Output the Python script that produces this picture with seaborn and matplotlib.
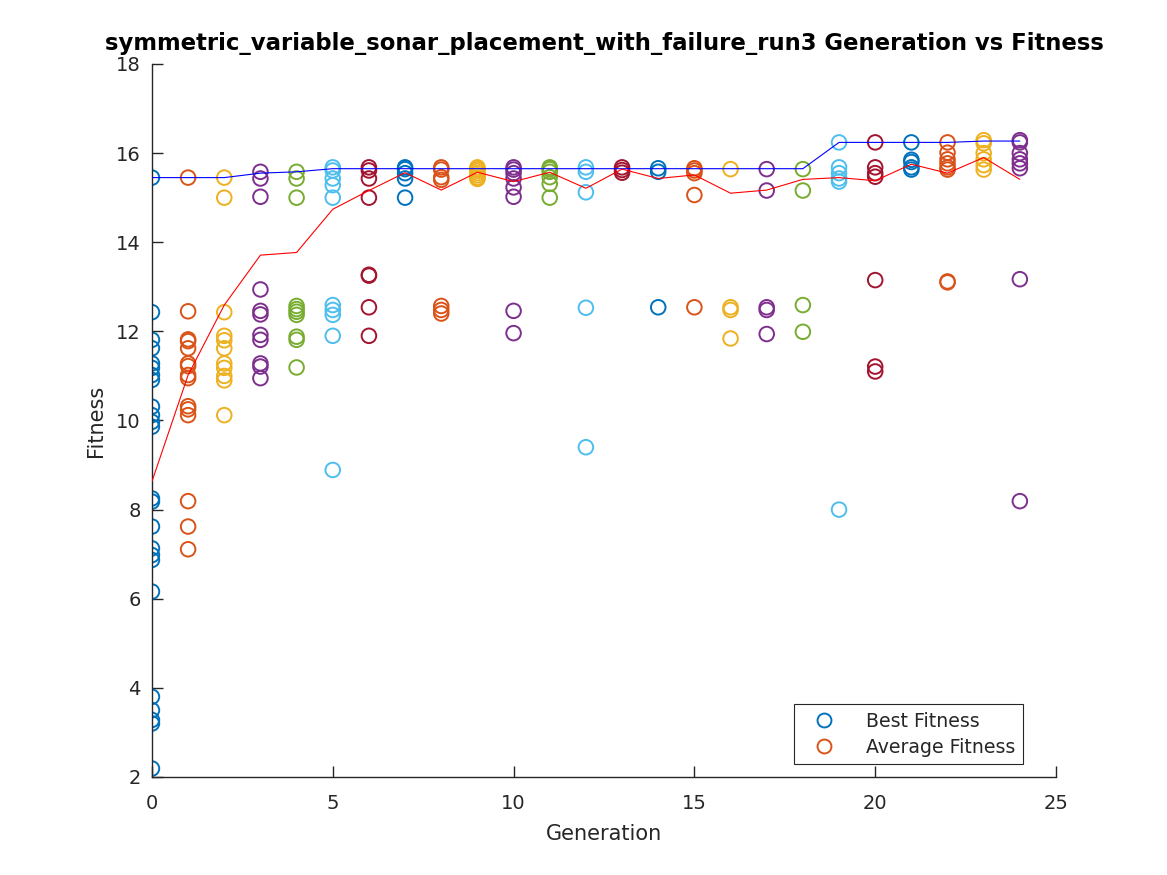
import numpy as np
import pandas as pd
import matplotlib
matplotlib.use('Agg')
import matplotlib.pyplot as plt
from matplotlib.lines import Line2D
import seaborn as sns

# fitness values of every individual, one list per generation
g0 = [15.45, 12.43, 11.81, 11.62, 11.28, 11.18, 11.02, 10.91, 10.31, 10.12, 9.97, 9.86,
      8.25, 8.18, 7.62, 7.13, 6.98, 6.87, 6.16, 3.80, 3.50, 3.28, 3.20, 2.19]
g1 = [15.45, 12.45, 11.82, 11.78, 11.62, 11.28, 11.22, 11.02, 10.95, 10.32, 10.25, 10.12,
      8.19, 7.62, 7.11]
g2 = [15.45, 15.0, 12.43, 11.9, 11.8, 11.62, 11.28, 11.18, 11.0, 10.9, 10.12]
g3 = [15.58, 15.43, 15.02, 12.94, 12.46, 12.38, 11.92, 11.81, 11.28, 11.21, 10.95]
g4 = [15.58, 15.43, 15.0, 12.57, 12.5, 12.44, 12.37, 11.88, 11.81, 11.19]
g5 = [15.68, 15.61, 15.43, 15.28, 15.0, 12.59, 12.48, 12.37, 11.9, 8.89]
g6 = [15.68, 15.61, 15.43, 15.0, 13.27, 13.25, 12.54, 11.9]
g7 = [15.68, 15.64, 15.55, 15.43, 15.0]
g8 = [15.68, 15.63, 15.46, 15.4, 12.57, 12.48, 12.4]
g9 = [15.68, 15.64, 15.6, 15.55, 15.5, 15.45, 15.42]
g10 = [15.68, 15.63, 15.55, 15.43, 15.23, 15.02, 12.46, 11.96]
g11 = [15.68, 15.64, 15.58, 15.46, 15.31, 15.0]
g12 = [15.68, 15.58, 15.12, 12.53, 9.4]
g13 = [15.68, 15.62, 15.56]
g14 = [15.66, 15.58, 12.54]
g15 = [15.66, 15.61, 15.55, 15.06, 12.54]
g16 = [15.64, 12.54, 12.48, 11.84]
g17 = [15.64, 15.16, 12.54, 12.48, 11.94]
g18 = [15.64, 15.16, 12.59, 11.99]
g19 = [16.24, 15.68, 15.55, 15.43, 15.36, 8.0]
g20 = [16.24, 15.68, 15.55, 15.47, 13.15, 11.21, 11.10]
g21 = [16.24, 15.85, 15.8, 15.68, 15.63]
g22 = [16.24, 16.01, 15.86, 15.77, 15.68, 15.63, 13.12, 13.1]
g23 = [16.29, 16.22, 16.0, 15.86, 15.73, 15.63]
g24 = [16.29, 16.24, 16.0, 15.86, 15.77, 15.66, 13.17, 8.19]

best_fitness = [15.45, 15.45, 15.45, 15.55, 15.58, 15.65, 15.65, 15.65, 15.65, 15.65,
                15.65, 15.65, 15.65, 15.65, 15.65, 15.65, 15.65, 15.65, 15.65, 16.24,
                16.24, 16.24, 16.24, 16.27, 16.27]
avg_fitness = [8.63, 11.02, 12.59, 13.71, 13.77, 14.74, 15.16, 15.56, 15.17, 15.57,
               15.36, 15.57, 15.21, 15.64, 15.43, 15.51, 15.10, 15.17, 15.41, 15.45,
               15.38, 15.75, 15.55, 15.90, 15.41]

populations = [g0, g1, g2, g3, g4, g5, g6, g7, g8, g9, g10, g11, g12, g13, g14, g15,
               g16, g17, g18, g19, g20, g21, g22, g23, g24]
generations = list(range(len(populations)))

# MATLAB default colour order
matlab_colors = ['#0072BD', '#D95319', '#EDB120', '#7E2F8E', '#77AC30', '#4DBEEE', '#A2142F']

sns.set_style('white')
plt.rcParams['font.family'] = ['DejaVu Sans']

fig = plt.figure(figsize=(11.67, 8.75), dpi=100)
ax = fig.add_axes([0.1302, 0.112, 0.7747, 0.8149])

for g, vals in zip(generations, populations):
    c = matlab_colors[g % 7]
    df = pd.DataFrame({'Generation': [g] * len(vals), 'Fitness': vals})
    sns.scatterplot(data=df, x='Generation', y='Fitness', ax=ax, marker='o', s=110,
                    color=c, facecolor='none', edgecolor=c, linewidth=1.4, zorder=2)

lines = pd.DataFrame({'Generation': generations, 'Best': best_fitness, 'Average': avg_fitness})
sns.lineplot(data=lines, x='Generation', y='Best', ax=ax, color='#0000FF', linewidth=0.8, zorder=3)
sns.lineplot(data=lines, x='Generation', y='Average', ax=ax, color='#FF0000', linewidth=0.8, zorder=3)

ax.set_xlim(0, 25)
ax.set_ylim(2, 18)
ax.set_xticks([0, 5, 10, 15, 20, 25])
ax.set_yticks([2, 4, 6, 8, 10, 12, 14, 16, 18])
ax.tick_params(bottom=True, left=True, direction='in', length=8, width=1,
               colors='#262626', labelsize=14)
ax.tick_params(axis='x', pad=12)
ax.tick_params(axis='y', pad=8)
for side in ['top', 'right']:
    ax.spines[side].set_visible(False)
for side in ['left', 'bottom']:
    ax.spines[side].set_color('#262626')
    ax.spines[side].set_linewidth(1)

ax.set_xlabel('Generation', fontsize=15, color='#262626', labelpad=8)
ax.set_ylabel('Fitness', fontsize=15, color='#262626', labelpad=7)
ax.set_title('symmetric_variable_sonar_placement_with_failure_run3 Generation vs Fitness',
             fontsize=16.4, fontweight='bold', color='black', pad=10)

handles = [Line2D([], [], linestyle='none', marker='o', markersize=10, markerfacecolor='none',
                  markeredgecolor=matlab_colors[0], markeredgewidth=1.4),
           Line2D([], [], linestyle='none', marker='o', markersize=10, markerfacecolor='none',
                  markeredgecolor=matlab_colors[1], markeredgewidth=1.4)]
leg = ax.legend(handles, ['Best Fitness', 'Average Fitness'], loc='lower right',
                bbox_to_anchor=(0.9635, 0.018), fontsize=13.6, fancybox=False,
                edgecolor='#262626', framealpha=1, handletextpad=1.1, borderpad=0.4,
                labelspacing=0.35, borderaxespad=0, handlelength=2.3)
leg.get_frame().set_linewidth(0.8)

fig.savefig('out.png', dpi=100)
